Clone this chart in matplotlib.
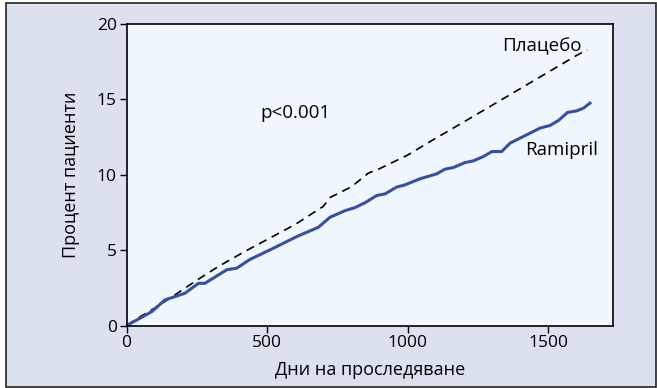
import matplotlib.pyplot as plt
from matplotlib.patches import Rectangle

plt.rcParams['font.family'] = ['Open Sans', 'DejaVu Sans']

# cumulative event curves (days, percent of patients)
placebo_days = [0, 50, 100, 170, 250, 330, 420, 500, 600, 700, 725, 800, 860, 900,
                1000, 1080, 1200, 1300, 1400, 1500, 1600, 1640]
placebo_pct = [0, 0.6, 1.15, 2.0, 3.0, 3.95, 4.9, 5.7, 6.7, 7.9, 8.5, 9.2, 10.1, 10.4,
               11.3, 12.2, 13.5, 14.6, 15.7, 16.8, 17.9, 18.3]

ramipril_days = [0, 40, 90, 137, 170, 208, 256, 279, 357, 392, 440, 522, 606, 683, 724,
                 778, 813, 849, 890, 920, 961, 991, 1044, 1080, 1104, 1133, 1163, 1205,
                 1234, 1270, 1300, 1335, 1365, 1412, 1472, 1507, 1537, 1569, 1602, 1626, 1649]
ramipril_pct = [0, 0.4, 0.92, 1.7, 1.9, 2.14, 2.8, 2.8, 3.7, 3.8, 4.39, 5.12, 5.9, 6.52, 7.18,
                7.62, 7.82, 8.15, 8.62, 8.73, 9.18, 9.33, 9.73, 9.93, 10.06, 10.37, 10.48, 10.81,
                10.92, 11.21, 11.54, 11.54, 12.1, 12.54, 13.1, 13.27, 13.6, 14.13, 14.24, 14.42, 14.75]

x_ticks = [0, 500, 1000, 1500]
y_ticks = [0, 5, 10, 15, 20]

fig = plt.figure(figsize=(6.57, 3.88), dpi=100, facecolor='white')
fig.patches.append(Rectangle((6 / 657, 0.002), 650 / 657, 384 / 388, transform=fig.transFigure,
                             facecolor='#dce1f0', edgecolor='#222222', linewidth=1.2, zorder=-1))

ax = fig.add_axes([126.5 / 657, 62.5 / 388, 486.5 / 657, 301.5 / 388])
ax.set_facecolor('#eff6fd')

ax.plot(placebo_days, placebo_pct, color='black', linestyle=(0, (5, 3.5)), linewidth=1.2)
ax.plot(ramipril_days, ramipril_pct, color='#3a4fa0', linewidth=2.2)

ax.text(1618, 18.5, 'Плацебо', ha='right', va='center', fontsize=13.5)
ax.text(1418, 11.65, 'Ramipril', ha='left', va='center', fontsize=13.5)
ax.text(475, 14.1, 'p<0.001', ha='left', va='center', fontsize=13.5)

ax.set_xlim(0, 1731)
ax.set_ylim(0, 20)
ax.set_xticks(x_ticks)
ax.set_yticks(y_ticks)
ax.tick_params(direction='out', length=5, width=1.0, labelsize=12.5, pad=2)
for s in ax.spines.values():
    s.set_linewidth(1.2)

ax.set_xlabel('Дни на проследяване', fontsize=13, labelpad=7)
ax.set_ylabel('Процент пациенти', fontsize=13, labelpad=12)

fig.savefig('out.png', dpi=100, facecolor=fig.get_facecolor())
